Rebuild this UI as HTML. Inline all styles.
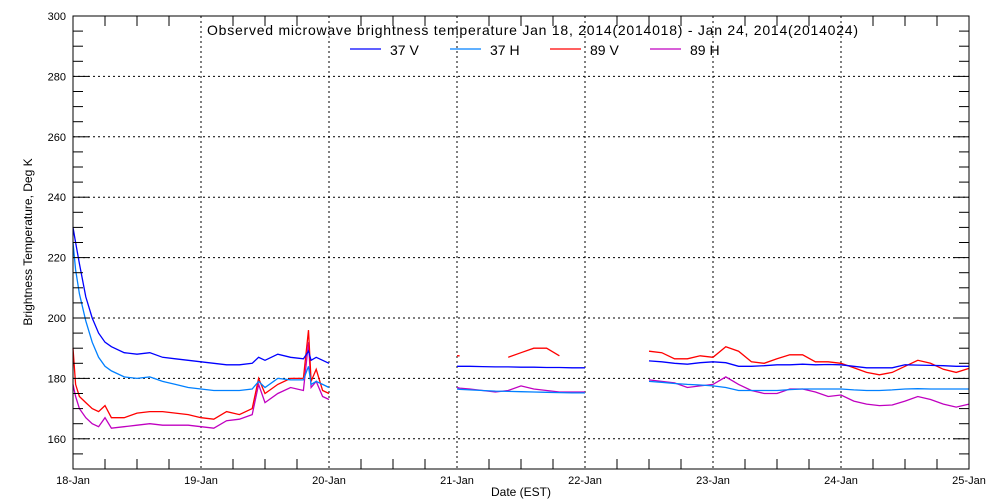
<!DOCTYPE html>
<html><head><meta charset="utf-8"><style>
body{margin:0;background:#fff}
svg{display:block;font-family:"Liberation Sans",sans-serif}
</style></head><body>
<svg id="chart" width="1000" height="500">
<rect width="1000" height="500" fill="#fff"/>
<g id="grid"></g>
<g id="series"></g>
<g id="axes"></g>
<text x="207" y="35" textLength="651" lengthAdjust="spacing" font-size="14">Observed microwave brightness temperature Jan 18, 2014(2014018) - Jan 24, 2014(2014024)</text>
<g id="legend"></g>
<text x="521" y="496" text-anchor="middle" font-size="12">Date (EST)</text>
<text transform="translate(32,242) rotate(-90)" text-anchor="middle" font-size="12">Brightness Temperature, Deg K</text>
</svg>
<script>
const xTickLabels=["18-Jan","19-Jan","20-Jan","21-Jan","22-Jan","23-Jan","24-Jan","25-Jan"];
const yTicks=[160,180,200,220,240,260,280,300];
const seriesNames=["37 V","37 H","89 V","89 H"];
const times1=[0,0.02,0.05,0.1,0.15,0.2,0.25,0.3,0.4,0.5,0.6,0.7,0.8,0.9,1.0,1.1,1.2,1.3,1.4,1.45,1.5,1.6,1.7,1.8,1.84,1.86,1.9,1.95,2.0];
const v37V_1=[230,225,218,207,200,195,192,190.5,188.5,188,188.5,187,186.5,186,185.5,185,184.5,184.5,185,187,186,188,187,186.5,189,186,187,186,185];
const v37H_1=[225,216,208,199,192,187,184,182.5,180.5,180,180.5,179,178,177,176.5,176,176,176,176.5,179,177,180,179.5,179.5,184,178,179,178,177];
const v89V_1=[190,178,174,172,170,169,171,167,167,168.5,169,169,168.5,168,167,166.5,169,168,170,180,175,178,180,180,196,179,183,176,175];
const v89H_1=[178,174,170,167,165,164,167,163.5,164,164.5,165,164.5,164.5,164.5,164,163.5,166,166.5,168,178,172,175,177,176,192,177,179,174,173];
const times2=[3.0,3.02,3.1,3.2,3.3,3.4,3.5,3.6,3.7,3.8,3.9,4.0];
const v37V_2=[184,184,184,183.9,183.8,183.8,183.7,183.7,183.6,183.6,183.5,183.5];
const v37H_2=[176.5,176.4,176.2,176,175.8,175.7,175.6,175.5,175.4,175.3,175.2,175.2];
const v89V_2=[187.5,187.5,null,null,null,187,188.5,190,190,187.5,null,null];
const v89H_2=[177,176.8,176.5,176,175.5,176,177.5,176.5,176,175.5,175.5,175.5];
const times3=[4.5,4.6,4.7,4.8,4.9,5.0,5.1,5.2,5.3,5.4,5.5,5.6,5.7,5.8,5.9,6.0,6.1,6.2,6.3,6.4,6.5,6.6,6.7,6.8,6.9,7.0];
const v37V_3=[185.8,185.5,185,184.7,185.2,185.5,185.2,184,184,184.2,184.5,184.5,184.7,184.5,184.6,184.5,184,183.5,183.5,183.5,184.5,184.4,184.3,184.2,184,184];
const v37H_3=[179,178.7,178.3,178,177.8,177.5,177,176,176,176,176,176.3,176.5,176.5,176.5,176.5,176.2,176,176,176.2,176.5,176.6,176.5,176.5,176.5,176.5];
const v89V_3=[189,188.5,186.5,186.5,187.5,187,190.5,189,185.5,185,186.5,187.8,187.8,185.5,185.5,185,183.5,182,181.2,182,184,186,185,183,182,183.3];
const v89H_3=[179.5,179,178.5,177,177.5,178,180.5,178,176,175,175,176.5,176.5,175.5,174,174.5,172.5,171.5,171,171.2,172.5,174,173,171.5,170.5,171.5];
const colors=["#0000ff","#0080ff","#ff0000","#c000c0"];

const NS="http://www.w3.org/2000/svg";
const X0=73,X1=969,Y0=16,Y1=469,TMAX=7,VMIN=150,VMAX=300;
function xs(t){return X0+(X1-X0)*t/TMAX;}
function ys(v){return Y1-(Y1-Y0)*(v-VMIN)/(VMAX-VMIN);}
function mk(tag,attrs,parent){const e=document.createElementNS(NS,tag);for(const k in attrs)e.setAttribute(k,attrs[k]);parent.appendChild(e);return e;}
const grid=document.getElementById('grid'),axes=document.getElementById('axes'),ser=document.getElementById('series'),leg=document.getElementById('legend');
for(let d=1;d<TMAX;d++){const l=mk('line',{x1:xs(d),x2:xs(d),y1:Y0,y2:Y1,stroke:'#000','stroke-dasharray':'2,3'},grid);

}
yTicks.forEach(v=>{if(v<300){const l=mk('line',{x1:X0,x2:X1,y1:ys(v),y2:ys(v),stroke:'#000','stroke-dasharray':'2,3'},grid);

}});
const sets=[[times1,[v37V_1,v37H_1,v89V_1,v89H_1]],[times2,[v37V_2,v37H_2,v89V_2,v89H_2]],[times3,[v37V_3,v37H_3,v89V_3,v89H_3]]];
[3,2,1,0].forEach(si=>{sets.forEach(([ts,vals])=>{let d='',pen=false;
ts.forEach((t,i)=>{const v=vals[si][i];if(v===null){pen=false;return;}d+=(pen?'L':'M')+xs(t).toFixed(1)+','+ys(v).toFixed(1);pen=true;});
const p=mk('path',{d:d,fill:'none',stroke:colors[si],'stroke-width':1.3},ser);

});});
const fr=mk('rect',{x:X0,y:Y0,width:X1-X0,height:Y1-Y0,fill:'none',stroke:'#000','stroke-width':1},axes);


for(let q=0;q<=TMAX*4;q++){const x=xs(q/4),len=(q%4===0)?0:10;if(len){mk('line',{x1:x,x2:x,y1:Y1,y2:Y1-len,stroke:'#000'},axes);mk('line',{x1:x,x2:x,y1:Y0,y2:Y0+len,stroke:'#000'},axes);}}
for(let v=155;v<300;v+=5){const y=ys(v),len=(v%20===0)?16:10;mk('line',{x1:X0,x2:X0+len,y1:y,y2:y,stroke:'#000'},axes);mk('line',{x1:X1,x2:X1-len,y1:y,y2:y,stroke:'#000'},axes);}
xTickLabels.forEach((s,i)=>{const t=mk('text',{x:xs(i),y:Y1+15,'text-anchor':'middle','font-size':11},axes);t.textContent=s;

});
yTicks.forEach(v=>{const t=mk('text',{x:X0-7,y:ys(v)+4,'text-anchor':'end','font-size':11},axes);t.textContent=v;

});
seriesNames.forEach((n,i)=>{const x=350+i*100;
const g=mk('g',{},leg);


mk('line',{x1:x,x2:x+31,y1:49,y2:49,stroke:colors[i],'stroke-width':1.2},g);
const t=mk('text',{x:x+40,y:55,'font-size':14},g);t.textContent=n;});
</script>
</body></html>
